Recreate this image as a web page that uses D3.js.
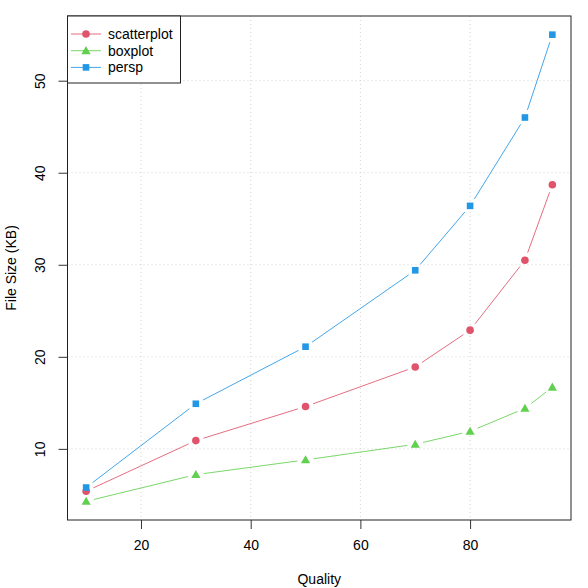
<!DOCTYPE html>
<html>
<head>
<meta charset="utf-8">
<script src="https://cdn.jsdelivr.net/npm/d3@7"></script>
<style>
  body { margin: 0; background: #fff; }
  text { font-family: "Liberation Sans", Arial, sans-serif; fill: #000; }
</style>
</head>
<body>
<div id="wrapper"></div>
<script>
// data
const quality = [10, 30, 50, 70, 80, 90, 95]
const scatterplot = [5.4, 10.9, 14.6, 18.9, 22.9, 30.5, 38.7]
const boxplot = [4.3, 7.2, 8.8, 10.5, 11.9, 14.4, 16.7]
const persp = [5.8, 14.9, 21.1, 29.4, 36.4, 46.0, 55.0]
const seriesNames = ["scatterplot", "boxplot", "persp"]
const xTicks = [20, 40, 60, 80]
const yTicks = [10, 20, 30, 40, 50]

const series = [
  { name: "scatterplot", values: scatterplot, color: "#DF536B", shape: "circle" },
  { name: "boxplot", values: boxplot, color: "#61D04F", shape: "triangle" },
  { name: "persp", values: persp, color: "#2297E6", shape: "square" },
]

const width = 588
const height = 588
const plot = { left: 67.5, right: 571, top: 16, bottom: 520 }

const svg = d3.select("#wrapper").append("svg")
  .attr("width", width)
  .attr("height", height)

// R-style 4% padded ranges
function padded(ext) {
  const d = (ext[1] - ext[0]) * 0.04
  return [ext[0] - d, ext[1] + d]
}
const allY = scatterplot.concat(boxplot, persp)
const xScale = d3.scaleLinear().domain(padded(d3.extent(quality))).range([plot.left, plot.right])
const yScale = d3.scaleLinear().domain(padded(d3.extent(allY))).range([plot.bottom, plot.top])

// grid
const grid = svg.append("g")
  .attr("stroke", "#d3d3d3")
  .attr("stroke-dasharray", "1,3")
  .attr("stroke-width", 1)
grid.selectAll(".gx").data(xTicks).join("line")
  .attr("x1", d => xScale(d)).attr("x2", d => xScale(d))
  .attr("y1", plot.top).attr("y2", plot.bottom)
grid.selectAll(".gy").data(yTicks).join("line")
  .attr("x1", plot.left).attr("x2", plot.right)
  .attr("y1", d => yScale(d)).attr("y2", d => yScale(d))

// axes
const xAxis = svg.append("g")
  .attr("transform", `translate(0, ${plot.bottom})`)
  .call(d3.axisBottom(xScale).tickValues(xTicks).tickSize(9).tickPadding(11))
xAxis.select(".domain").remove()
xAxis.selectAll("line").attr("stroke", "#333")
xAxis.selectAll("text").style("font-size", "14px").attr("font-family", null)

const yAxis = svg.append("g")
  .attr("transform", `translate(${plot.left}, 0)`)
  .call(d3.axisLeft(yScale).tickValues(yTicks).tickSize(9))
yAxis.select(".domain").remove()
yAxis.selectAll("line").attr("stroke", "#333")
yAxis.selectAll("text")
  .attr("x", null).attr("dy", null)
  .attr("transform", "translate(-23, 0) rotate(-90)")
  .attr("text-anchor", "middle")
  .style("font-size", "14px").attr("font-family", null)

// box
svg.append("rect")
  .attr("x", plot.left).attr("y", plot.top)
  .attr("width", plot.right - plot.left).attr("height", plot.bottom - plot.top)
  .attr("fill", "none").attr("stroke", "#222").attr("stroke-width", 1)

// axis titles
svg.append("text")
  .attr("x", (plot.left + plot.right) / 2).attr("y", 584)
  .attr("text-anchor", "middle").style("font-size", "14px")
  .text("Quality")
svg.append("text")
  .attr("transform", `translate(16, ${(plot.top + plot.bottom) / 2}) rotate(-90)`)
  .attr("text-anchor", "middle").style("font-size", "14px")
  .text("File Size (KB)")

// symbols
function drawSymbol(g, shape, x, y, color) {
  if (shape === "circle") {
    g.append("circle").attr("cx", x).attr("cy", y).attr("r", 3.8).attr("fill", color)
  } else if (shape === "triangle") {
    const s = 4.6
    g.append("path")
      .attr("d", `M${x},${y - s} L${x + s},${y + s * 0.75} L${x - s},${y + s * 0.75} Z`)
      .attr("fill", color)
  } else {
    g.append("rect").attr("x", x - 3.3).attr("y", y - 3.3)
      .attr("width", 6.6).attr("height", 6.6).attr("fill", color)
  }
}

// lines with gaps (type = "b")
const gap = 8
series.forEach(s => {
  const g = svg.append("g")
  const pts = quality.map((q, i) => [xScale(q), yScale(s.values[i])])
  for (let i = 0; i < pts.length - 1; i++) {
    const [x1, y1] = pts[i], [x2, y2] = pts[i + 1]
    const len = Math.hypot(x2 - x1, y2 - y1)
    if (len <= 2 * gap) continue
    const ux = (x2 - x1) / len, uy = (y2 - y1) / len
    g.append("line")
      .attr("x1", x1 + ux * gap).attr("y1", y1 + uy * gap)
      .attr("x2", x2 - ux * gap).attr("y2", y2 - uy * gap)
      .attr("stroke", s.color).attr("stroke-opacity", 0.85).attr("stroke-width", 1)
  }
  pts.forEach(p => drawSymbol(g, s.shape, p[0], p[1], s.color))
})

// legend
const legend = svg.append("g")
legend.append("rect")
  .attr("x", plot.left).attr("y", plot.top)
  .attr("width", 113).attr("height", 67)
  .attr("fill", "#fff").attr("stroke", "#222")
series.forEach((s, i) => {
  const y = 34 + i * 16.7
  legend.append("line")
    .attr("x1", 71).attr("x2", 101).attr("y1", y).attr("y2", y)
    .attr("stroke", s.color).attr("stroke-opacity", 0.85)
  drawSymbol(legend, s.shape, 86, y, s.color)
  legend.append("text")
    .attr("x", 108).attr("y", y + 5)
    .style("font-size", "14px")
    .text(seriesNames[i])
})
</script>
</body>
</html>
